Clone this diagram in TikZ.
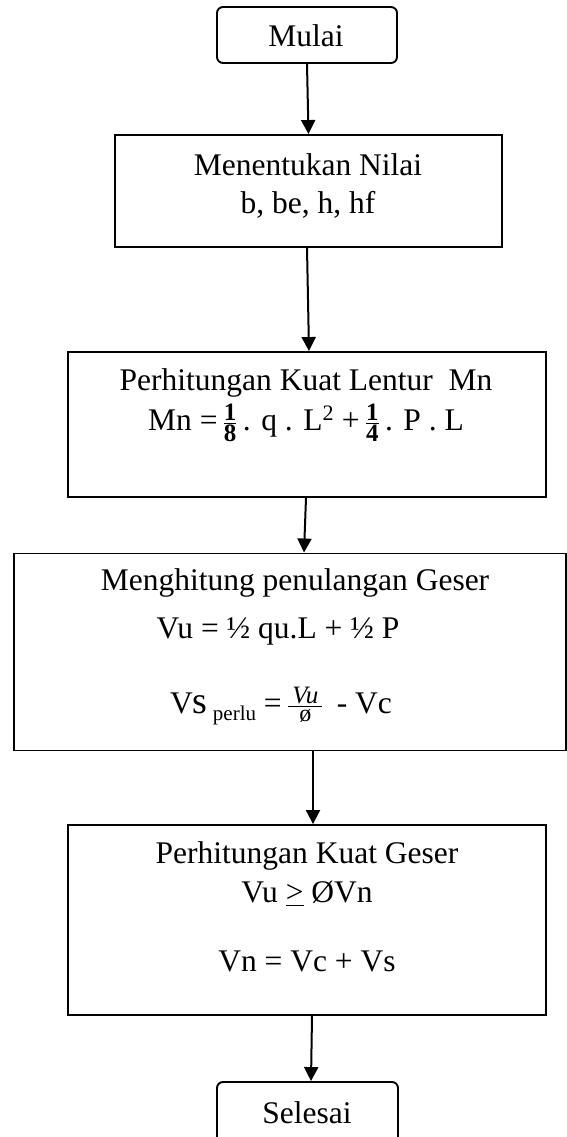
\documentclass[tikz,border=0pt]{standalone}
\usepackage{amsmath}
\usepackage{fontspec}
\setmainfont{Liberation Serif}
\usetikzlibrary{arrows.meta,calc}
\newcommand\myfr[2]{\ensuremath{\genfrac{}{}{1pt}{}{\hbox{\fontsize{25}{25}\selectfont\bfseries #1}}{\hbox{\fontsize{25}{25}\selectfont\bfseries #2}}}}
\tikzset{
  box/.style={draw,line width=1.9pt,inner sep=0pt},
  term/.style={box,rounded corners=6pt},
  arr/.style={line width=2pt,-{Triangle[width=14pt,length=14pt]}},
  txt/.style={anchor=base,inner sep=0pt,font=\fontsize{31.5}{38}\selectfont}
}
\begin{document}
\begin{tikzpicture}[x=1pt,y=-1pt]
\path[fill=white,use as bounding box] (0,0) rectangle (566,1137);
% boxes
\node[term,minimum width=180pt,minimum height=56pt] (start) at (307,35) {};
\node[box,minimum width=387pt,minimum height=112pt] (b2) at (308.5,191) {};
\node[box,minimum width=478pt,minimum height=145pt] (b3) at (307,424.5) {};
\node[box,minimum width=552pt,minimum height=197pt] (b4) at (290,652) {};
\node[box,minimum width=478pt,minimum height=190pt] (b5) at (307,920) {};
\node[term,minimum width=181pt,minimum height=62pt] (end) at (307.5,1113) {};
% texts
\node[txt] (t1) at (306,47) {Mulai};
\node[txt] (t2a) at (308,175) {Menentukan Nilai};
\node[txt] (t2b) at (308,213) {b, be, h, hf};
\node[txt] (t3a) at (306,390) {Perhitungan Kuat Lentur\ \ Mn};
\node[txt] (t3b) at (306,430) {Mn =\,\myfr{1}{8}\,. q . L\textsuperscript{2} +\,\myfr{1}{4}\,. P . L};
\node[txt] (t4a) at (295,590) {Menghitung penulangan Geser};
\node[txt] (t4b) at (278,638) {Vu = ½ qu.L + ½ P};
\node[txt] (t4c) at (281,713) {V{\fontsize{38}{38}\selectfont s}\,\raisebox{-7pt}{\fontsize{21}{21}\selectfont perlu} =\,\ensuremath{\genfrac{}{}{0.9pt}{}{\hbox{\fontsize{25}{25}\selectfont\itshape\,Vu\,}}{\hbox{\fontsize{24}{24}\selectfont ø}}}\, - Vc};
\node[txt] (t5a) at (307,863) {Perhitungan Kuat Geser};
\node[txt] (t5b) at (307,902) {Vu \underline{>} ØVn};
\node[txt] (t5c) at (307,971) {Vn = Vc + Vs};
\node[txt] (t6) at (307,1123) {Selesai};
% connectors
\draw[arr] (start.south) -- (b2.north);
\draw[arr] ($(b2.south)+(-1.5,0)$) -- ($(b3.north)+(2,0)$);
\draw[arr] ($(b3.south)+(-1,0)$) -- ($(b4.north)+(14,0)$);
\draw[arr] ($(b4.south)+(23,0)$) -- ($(b5.north)+(6,0)$);
\draw[arr] ($(b5.south)+(5,0)$) -- ($(end.north)+(3.5,0)$);
\end{tikzpicture}
\end{document}
